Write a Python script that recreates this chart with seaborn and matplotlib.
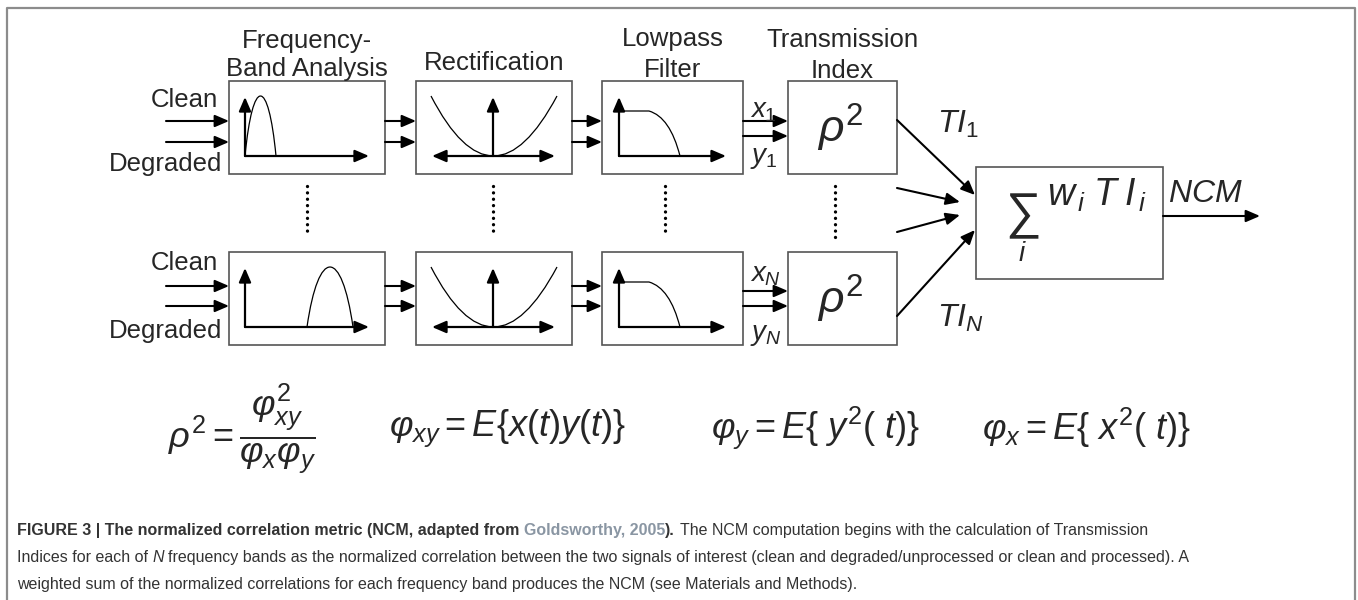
import matplotlib
matplotlib.use("Agg")
import matplotlib.pyplot as plt
import seaborn as sns
from matplotlib.patches import Rectangle, PathPatch
from matplotlib.path import Path

sns.set_theme(style="white")
plt.rcParams['font.family'] = ['Liberation Sans', 'DejaVu Sans']
plt.rcParams['mathtext.fontset'] = 'custom'
plt.rcParams['mathtext.rm'] = 'Liberation Sans'
plt.rcParams['mathtext.it'] = 'Liberation Sans:italic'
plt.rcParams['mathtext.bf'] = 'Liberation Sans:bold'

# ---------------------------------------------------------
# Diagram content
# ---------------------------------------------------------
stage_titles = [["Frequency-", "Band Analysis"], ["Rectification"], ["Lowpass", "Filter"], ["Transmission", "Index"]]
input_labels = ["Clean", "Degraded"]
band_x_labels = [r"$x_{\mathit{1}}$", r"$x_{N}$"]
band_y_labels = [r"$y_{\mathit{1}}$", r"$y_{N}$"]
ti_labels = [r"$TI_{\mathit{1}}$", r"$TI_{N}$"]
ti_symbol = r"$\rho^{2}$"
sum_sign = "\u2211"
sum_index = r"$i$"
sum_terms = r"$w_{\,i}\;T\;I_{\,i}$"
output_label = r"$NCM$"
equations = [
    r"$\rho^{2} = \dfrac{\varphi_{xy}^{2}}{\varphi_{x}\varphi_{y}}$",
    r"$\varphi_{xy} = E\{x(t)y(t)\}$",
    r"$\varphi_{y} = E\{\ y^{2}(\ t)\}$",
    r"$\varphi_{x} = E\{\ x^{2}(\ t)\}$",
]
caption_lines = [
    [("FIGURE 3 | The normalized correlation metric (NCM, adapted from", "b", 1),
     ("Goldsworthy, 2005", "link", 0),
     (").", "b", 1),
     ("The NCM computation begins with the calculation of Transmission", "r", 0)],
    [("Indices for each of", "r", 1), ("N", "i", 1),
     ("frequency bands as the normalized correlation between the two signals of interest "
      "(clean and degraded/unprocessed or clean and processed). A", "r", 0)],
    [("weighted sum of the normalized correlations for each frequency band produces the NCM "
      "(see Materials and Methods).", "r", 0)],
]

# layout (pixel space of the 1358x600 canvas)
block_x = [(229, 385), (416, 572), (602, 743), (788, 897)]
row_top = [81, 252]
block_h = 93
in_arrow_y = [(121, 142), (286, 306)]
ti_arrow_y = [(121, 136), (291, 306)]
label_base = [(107, 171), (270, 338)]
xy_base = [(117, 163), (282, 340)]
hump_span = [(16, 47, 31), (78, 124, 101)]
dots_x = [307, 493, 665, 835]

fig = plt.figure(figsize=(13.58, 6.0), dpi=100)
ax = fig.add_axes([0, 0, 1, 1])
ax.set_xlim(0, 1358)
ax.set_ylim(600, 0)
ax.axis("off")

EDGE = "#555555"


def arrow(x0, y0, x1, y1, lw=1.5, style="-|>", ms=13):
    ax.annotate("", xy=(x1, y1), xytext=(x0, y0),
                arrowprops=dict(arrowstyle=f"{style},head_length=0.65,head_width=0.28",
                                lw=lw, color="black", shrinkA=0, shrinkB=0,
                                mutation_scale=ms))


def curve(verts, codes, lw=0.9):
    ax.add_patch(PathPatch(Path(verts, codes), fill=False, lw=lw, edgecolor="black"))


# outer frame
ax.plot([7, 7, 1355, 1355], [600, 8, 8, 600], color="#8c8c8c", lw=1.6)

# stage titles
title_base = [(48, 76), (70,), (46, 77), (47, 78)]
for (x0, x1), lines, bases in zip(block_x, stage_titles, title_base):
    for txt, yb in zip(lines, bases):
        ax.text((x0 + x1) / 2, yb, txt, ha="center", va="baseline", fontsize=18.5)

M, C3, C4, L = Path.MOVETO, Path.CURVE3, Path.CURVE4, Path.LINETO

for r, top in enumerate(row_top):
    # blocks
    for (x0, x1) in block_x:
        ax.add_patch(Rectangle((x0, top), x1 - x0, block_h, fill=False, lw=1.2, edgecolor=EDGE))

    # inputs
    ya, yb = in_arrow_y[r]
    arrow(166, ya, block_x[0][0], ya)
    arrow(166, yb, block_x[0][0], yb)
    ax.text(218, label_base[r][0], input_labels[0], ha="right", va="baseline", fontsize=18.5)
    ax.text(222, label_base[r][1], input_labels[1], ha="right", va="baseline", fontsize=18.5)

    # block-to-block arrows
    for i in range(3):
        ys = in_arrow_y[r] if i < 2 else ti_arrow_y[r]
        for y in ys:
            arrow(block_x[i][1], y, block_x[i + 1][0], y)

    base = top + 75
    ytop = top + 15

    # frequency band icon
    bx = block_x[0][0]
    arrow(bx + 16, base, bx + 16, top + 16, lw=1.6)
    arrow(bx + 16, base, bx + 140, base, lw=1.6)
    h0, h1, hp = hump_span[r]
    hh = base - ytop
    curve([(bx + h0, base), (bx + h0 + 0.25 * (h1 - h0), ytop - hh / 3),
           (bx + h1 - 0.25 * (h1 - h0), ytop - hh / 3), (bx + h1, base)], [M, C4, C4, C4])

    # rectification icon
    bx = block_x[1][0]
    curve([(bx + 15, ytop), (bx + 77, 2 * base - ytop), (bx + 141, ytop)], [M, C3, C3])
    arrow(bx + 77, base, bx + 77, top + 16, lw=1.6)
    arrow(bx + 16, base, bx + 139, base, lw=1.6, style="<|-|>")

    # lowpass icon
    bx = block_x[2][0]
    arrow(bx + 17, base, bx + 17, top + 16, lw=1.6)
    arrow(bx + 17, base, bx + 124, base, lw=1.6)
    curve([(bx + 17, top + 30), (bx + 47, top + 30), (bx + 68, top + 36), (bx + 78, base)],
          [M, L, C3, C3])

    # x / y labels
    ax.text(750, xy_base[r][0], band_x_labels[r], ha="left", va="baseline", fontsize=20)
    ax.text(750, xy_base[r][1], band_y_labels[r], ha="left", va="baseline", fontsize=20)

    # transmission index
    bx = block_x[3][0]
    ax.text(bx + 52, top + 47, ti_symbol, ha="center", va="center", fontsize=32)

# dotted continuation marks
for x in dots_x:
    ax.plot([x, x], [186, 238 if x == dots_x[-1] else 235], color="black", lw=2.4,
            ls=(0, (0.01, 1.9)), dash_capstyle="round")

# summation block
ax.add_patch(Rectangle((976, 167), 187, 112, fill=False, lw=1.2, edgecolor=EDGE))
ax.text(1023, 228, sum_sign, ha="center", va="baseline", fontsize=36)
ax.text(1022, 261, sum_index, ha="center", va="baseline", fontsize=20)
ax.text(1047, 206, sum_terms, ha="left", va="baseline", fontsize=27)
arrow(1163, 216, 1260, 216)
ax.text(1168, 202, output_label, ha="left", va="baseline", fontsize=23)

# TI connections
arrow(897, 120, 975, 195)
arrow(897, 188, 960, 202)
arrow(897, 232, 960, 215)
arrow(897, 316, 975, 230)
ax.text(937, 133, ti_labels[0], ha="left", va="baseline", fontsize=23)
ax.text(937, 327, ti_labels[1], ha="left", va="baseline", fontsize=23)

# equations
eq_x = [242, 507, 815, 1086]
for x, eq in zip(eq_x, equations):
    ax.text(x, 428, eq, ha="center", va="center", fontsize=26)

# caption
renderer = fig.canvas.get_renderer()
styles = {
    "b": dict(fontweight="bold", color="#333333"),
    "link": dict(fontweight="bold", color="#8a96a3"),
    "r": dict(color="#333333"),
    "i": dict(color="#333333", fontstyle="italic"),
}
cap_font = ["Liberation Sans", "DejaVu Sans"]
cap_size = 11.5


def text_width(s, **kw):
    t = ax.text(0, 0, s, fontsize=cap_size, family=cap_font, **kw)
    w = t.get_window_extent(renderer).width
    t.remove()
    return w


space_w = text_width("n n") - text_width("nn")
inv = ax.transData.inverted()
for line, yb in zip(caption_lines, [535, 562, 589]):
    x = 17
    for txt, st, gap in line:
        t = ax.text(x, yb, txt, ha="left", va="baseline", fontsize=cap_size, family=cap_font, **styles[st])
        bb = t.get_window_extent(renderer)
        x_px = bb.x1 + (space_w if gap else 0)
        x = inv.transform((x_px, bb.y0))[0]

fig.savefig("out.png", dpi=100)
